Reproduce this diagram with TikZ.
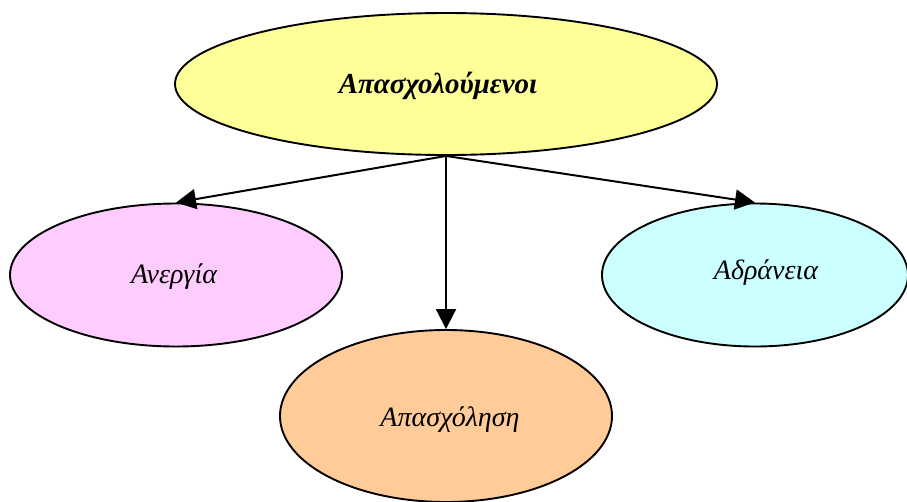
\documentclass[tikz,border=0pt]{standalone}
\usepackage{fontspec}
\setmainfont{Liberation Serif}
\usetikzlibrary{shapes.geometric,arrows.meta}
\definecolor{cyel}{HTML}{FFFF99}
\definecolor{cpink}{HTML}{FFCCFF}
\definecolor{ccyan}{HTML}{CCFFFF}
\definecolor{cpeach}{HTML}{FFCC99}
\tikzset{
  oval/.style={ellipse, draw=black, line width=1.9pt, inner sep=0pt},
  link/.style={line width=2pt, -{Triangle[length=20pt,width=20pt]}},
  lbl/.style={font=\itshape\fontsize{28}{32}\selectfont}
}
\begin{document}
\begin{tikzpicture}[x=1pt,y=-1pt]
\useasboundingbox (0,0) rectangle (907,501);
\node[oval, fill=cyel, minimum width=542pt, minimum height=142pt] (t) at (446,84) {};
\node[font=\bfseries\itshape\fontsize{29}{33}\selectfont] (tt) at (438,86) {Απασχολούμενοι};
\node[oval, fill=cpink, minimum width=332pt, minimum height=143pt] (l) at (176,275) {};
\node[lbl] (lt) at (174,277) {Ανεργία};
\node[oval, fill=ccyan, minimum width=306pt, minimum height=143pt] (r) at (755,275) {};
\node[lbl] (rt) at (766,273) {Αδράνεια};
\node[oval, fill=cpeach, minimum width=332pt, minimum height=172pt] (b) at (446,416) {};
\node[lbl] (bt) at (450,420) {Απασχόληση};
\draw[link] (t.south) -- (l.north);
\draw[link] (t.south) -- (b.north);
\draw[link] (t.south) -- (r.north);
\end{tikzpicture}
\end{document}
